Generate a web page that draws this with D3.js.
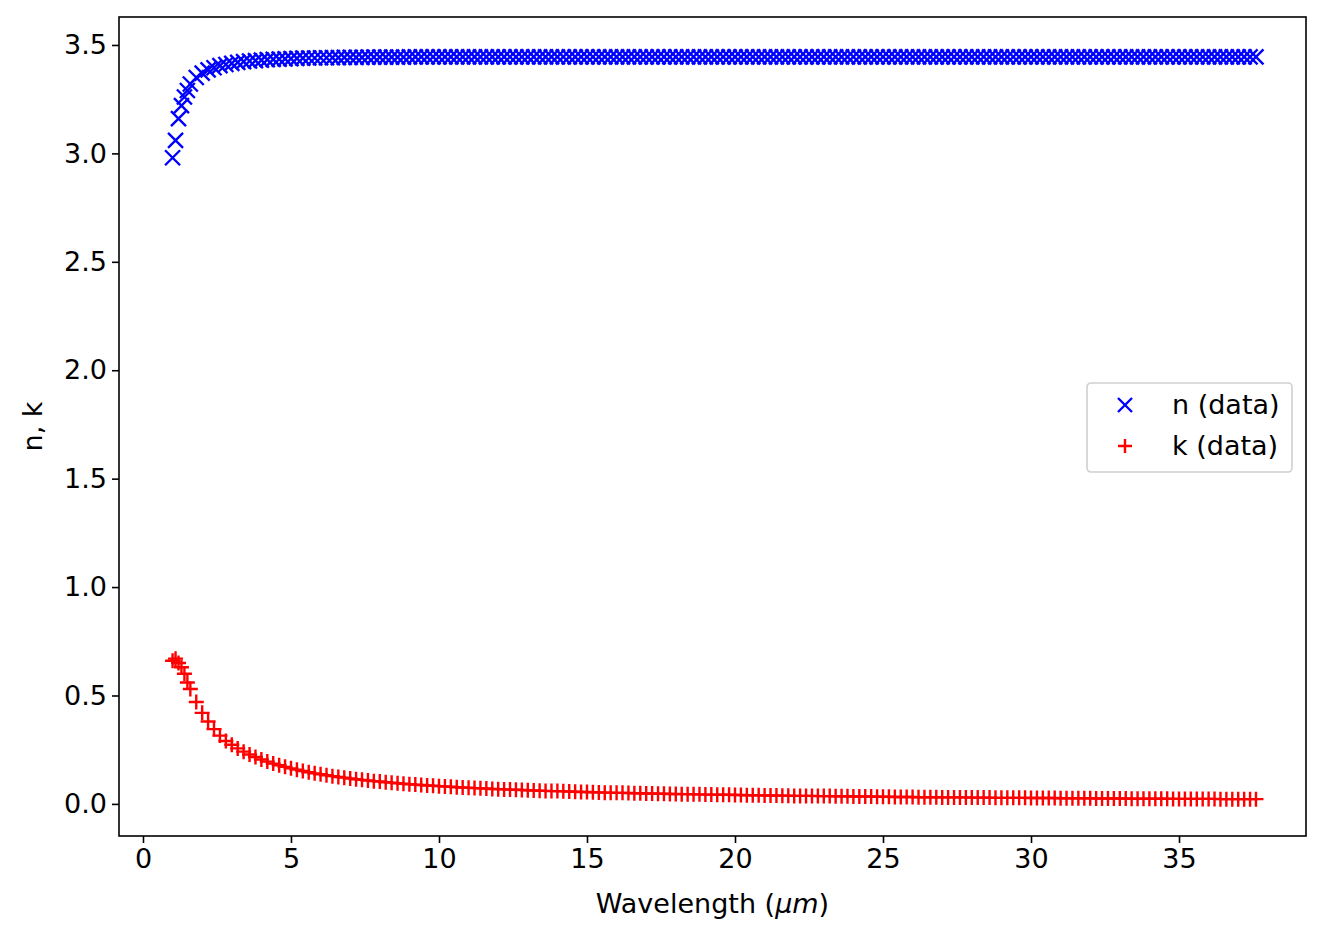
<!DOCTYPE html>
<html>
<head>
<meta charset="utf-8">
<script src="https://cdn.jsdelivr.net/npm/d3@7"></script>
<style>
  body { margin: 0; background: #fff; }
  text { font-family: "DejaVu Sans", sans-serif; fill: #000; }
</style>
</head>
<body>
<div id="chart"></div>
<script>
const wavelength = [
  1.0, 1.1, 1.2, 1.3, 1.4, 1.5, 1.6, 1.8, 2.0, 2.2, 2.4, 2.6, 2.8,
  3.0, 3.2, 3.4, 3.6, 3.8, 4.0, 4.2, 4.4, 4.6, 4.8,
  5.0, 5.2, 5.4, 5.6, 5.8, 6.0, 6.2, 6.4, 6.6, 6.8,
  7.0, 7.2, 7.4, 7.6, 7.8, 8.0, 8.2, 8.4, 8.6, 8.8,
  9.0, 9.2, 9.4, 9.6, 9.8, 10.0, 10.2, 10.4, 10.6, 10.8,
  11.0, 11.2, 11.4, 11.6, 11.8, 12.0, 12.2, 12.4, 12.6, 12.8,
  13.0, 13.2, 13.4, 13.6, 13.8, 14.0, 14.2, 14.4, 14.6, 14.8,
  15.0, 15.2, 15.4, 15.6, 15.8, 16.0, 16.2, 16.4, 16.6, 16.8,
  17.0, 17.2, 17.4, 17.6, 17.8, 18.0, 18.2, 18.4, 18.6, 18.8,
  19.0, 19.2, 19.4, 19.6, 19.8, 20.0, 20.2, 20.4, 20.6, 20.8,
  21.0, 21.2, 21.4, 21.6, 21.8, 22.0, 22.2, 22.4, 22.6, 22.8,
  23.0, 23.2, 23.4, 23.6, 23.8, 24.0, 24.2, 24.4, 24.6, 24.8,
  25.0, 25.2, 25.4, 25.6, 25.8, 26.0, 26.2, 26.4, 26.6, 26.8,
  27.0, 27.2, 27.4, 27.6, 27.8, 28.0, 28.2, 28.4, 28.6, 28.8,
  29.0, 29.2, 29.4, 29.6, 29.8, 30.0, 30.2, 30.4, 30.6, 30.8,
  31.0, 31.2, 31.4, 31.6, 31.8, 32.0, 32.2, 32.4, 32.6, 32.8,
  33.0, 33.2, 33.4, 33.6, 33.8, 34.0, 34.2, 34.4, 34.6, 34.8,
  35.0, 35.2, 35.4, 35.6, 35.8, 36.0, 36.2, 36.4, 36.6, 36.8,
  37.0, 37.2, 37.4, 37.6
];

const nValues = [
  2.98, 3.06, 3.16, 3.22, 3.26, 3.29, 3.32, 3.35, 3.37, 3.385, 3.395, 3.405, 3.41,
  3.415, 3.42, 3.423, 3.426, 3.428, 3.43, 3.432, 3.434, 3.435, 3.436,
  3.437, 3.438, 3.439, 3.44, 3.44, 3.441, 3.441, 3.442, 3.442, 3.443,
  3.443, 3.443, 3.443, 3.444, 3.444, 3.444, 3.444, 3.444, 3.444, 3.444,
  3.445, 3.445, 3.445, 3.445, 3.445, 3.445, 3.445, 3.445, 3.445, 3.445,
  3.445, 3.445, 3.445, 3.445, 3.445, 3.445, 3.445, 3.445, 3.445, 3.445,
  3.445, 3.445, 3.445, 3.445, 3.445, 3.445, 3.445, 3.445, 3.445, 3.445,
  3.445, 3.445, 3.445, 3.445, 3.445, 3.445, 3.445, 3.445, 3.445, 3.445,
  3.445, 3.445, 3.445, 3.445, 3.445, 3.445, 3.445, 3.445, 3.445, 3.445,
  3.445, 3.445, 3.445, 3.445, 3.445, 3.445, 3.445, 3.445, 3.445, 3.445,
  3.445, 3.445, 3.445, 3.445, 3.445, 3.445, 3.445, 3.445, 3.445, 3.445,
  3.445, 3.445, 3.445, 3.445, 3.445, 3.445, 3.445, 3.445, 3.445, 3.445,
  3.445, 3.445, 3.445, 3.445, 3.445, 3.445, 3.445, 3.445, 3.445, 3.445,
  3.445, 3.445, 3.445, 3.445, 3.445, 3.445, 3.445, 3.445, 3.445, 3.445,
  3.445, 3.445, 3.445, 3.445, 3.445, 3.445, 3.445, 3.445, 3.445, 3.445,
  3.445, 3.445, 3.445, 3.445, 3.445, 3.445, 3.445, 3.445, 3.445, 3.445,
  3.445, 3.445, 3.445, 3.445, 3.445, 3.445, 3.445, 3.445, 3.445, 3.445,
  3.445, 3.445, 3.445, 3.445, 3.445, 3.445, 3.445, 3.445, 3.445, 3.445,
  3.445, 3.445, 3.445, 3.445
];

const kValues = [
  0.66, 0.67, 0.65, 0.63, 0.60, 0.56, 0.53, 0.47, 0.42, 0.38, 0.345, 0.315, 0.29,
  0.273, 0.256, 0.241, 0.228, 0.216, 0.205, 0.195, 0.186, 0.178, 0.171,
  0.164, 0.158, 0.152, 0.146, 0.141, 0.137, 0.132, 0.128, 0.124, 0.121,
  0.117, 0.114, 0.111, 0.108, 0.105, 0.103, 0.100, 0.098, 0.095, 0.093,
  0.091, 0.089, 0.087, 0.085, 0.084, 0.082, 0.080, 0.079, 0.077, 0.076,
  0.075, 0.073, 0.072, 0.071, 0.069, 0.068, 0.067, 0.066, 0.065, 0.064,
  0.063, 0.062, 0.061, 0.060, 0.059, 0.059, 0.058, 0.057, 0.056, 0.055,
  0.055, 0.054, 0.053, 0.052, 0.052, 0.051, 0.051, 0.050, 0.049, 0.049,
  0.048, 0.048, 0.047, 0.047, 0.046, 0.046, 0.045, 0.045, 0.044, 0.044,
  0.043, 0.043, 0.042, 0.042, 0.042, 0.041, 0.041, 0.040, 0.040, 0.040,
  0.039, 0.039, 0.039, 0.038, 0.038, 0.037, 0.037, 0.037, 0.037, 0.036,
  0.036, 0.036, 0.035, 0.035, 0.035, 0.034, 0.034, 0.034, 0.034, 0.033,
  0.033, 0.033, 0.032, 0.032, 0.032, 0.032, 0.031, 0.031, 0.031, 0.031,
  0.030, 0.030, 0.030, 0.030, 0.030, 0.029, 0.029, 0.029, 0.029, 0.028,
  0.028, 0.028, 0.028, 0.028, 0.028, 0.027, 0.027, 0.027, 0.027, 0.027,
  0.026, 0.026, 0.026, 0.026, 0.026, 0.026, 0.025, 0.025, 0.025, 0.025,
  0.025, 0.025, 0.024, 0.024, 0.024, 0.024, 0.024, 0.024, 0.024, 0.023,
  0.023, 0.023, 0.023, 0.023, 0.023, 0.023, 0.023, 0.022, 0.022, 0.022,
  0.022, 0.022, 0.022, 0.022
];

const xTicks = [0, 5, 10, 15, 20, 25, 30, 35];
const yTicks = [0.0, 0.5, 1.0, 1.5, 2.0, 2.5, 3.0, 3.5];

const config = {
  width: 1324, height: 940,
  margin: {top: 17, right: 18, bottom: 104, left: 119},
  markerHalf: 7.5,
  fontSize: '27px'
};

const innerW = config.width - config.margin.left - config.margin.right;
const innerH = config.height - config.margin.top - config.margin.bottom;

const svg = d3.select('#chart').append('svg')
  .attr('width', config.width)
  .attr('height', config.height);

const g = svg.append('g')
  .attr('transform', `translate(${config.margin.left},${config.margin.top})`);

const x = d3.scaleLinear().domain([-0.81, 39.29]).range([0, innerW]);
const y = d3.scaleLinear().domain([-0.148, 3.629]).range([innerH, 0]);

const points = wavelength.map((w, i) => ({w, n: nValues[i], k: kValues[i]}));
const h = config.markerHalf;

// n markers (x shape)
g.append('g').selectAll('path')
  .data(points)
  .join('path')
  .attr('d', d => {
    const cx = x(d.w), cy = y(d.n);
    return `M${cx - h},${cy - h}L${cx + h},${cy + h}M${cx - h},${cy + h}L${cx + h},${cy - h}`;
  })
  .attr('stroke', 'blue')
  .attr('stroke-width', 2.4)
  .attr('fill', 'none');

// k markers (+ shape)
g.append('g').selectAll('path')
  .data(points)
  .join('path')
  .attr('d', d => {
    const cx = x(d.w), cy = y(d.k);
    return `M${cx - h},${cy}L${cx + h},${cy}M${cx},${cy - h}L${cx},${cy + h}`;
  })
  .attr('stroke', 'red')
  .attr('stroke-width', 2.4)
  .attr('fill', 'none');

// axes
const xAxis = g.append('g')
  .attr('transform', `translate(0,${innerH})`)
  .call(d3.axisBottom(x).tickValues(xTicks).tickSize(7).tickPadding(6).tickFormat(d3.format('d')));
const yAxis = g.append('g')
  .call(d3.axisLeft(y).tickValues(yTicks).tickSize(7).tickPadding(5).tickFormat(d3.format('.1f')));
[xAxis, yAxis].forEach(a => {
  a.select('.domain').remove();
  a.selectAll('line').attr('stroke', '#000').attr('stroke-width', 1.6);
  a.selectAll('text').style('font-size', config.fontSize).style('font-family', '"DejaVu Sans", sans-serif');
});

g.append('rect')
  .attr('width', innerW).attr('height', innerH)
  .attr('fill', 'none').attr('stroke', '#000').attr('stroke-width', 1.6);

// axis titles
const xt = svg.append('text')
  .attr('x', config.margin.left + innerW / 2)
  .attr('y', 913)
  .attr('text-anchor', 'middle')
  .style('font-size', config.fontSize);
xt.append('tspan').text('Wavelength (');
xt.append('tspan').style('font-style', 'italic').text('μm');
xt.append('tspan').text(')');

svg.append('text')
  .attr('transform', `translate(42,${config.margin.top + innerH / 2}) rotate(-90)`)
  .attr('text-anchor', 'middle')
  .style('font-size', config.fontSize)
  .text('n, k');

// legend
const legend = svg.append('g').attr('transform', 'translate(1087,383)');
legend.append('rect')
  .attr('width', 205).attr('height', 89).attr('rx', 4)
  .attr('fill', 'rgba(255,255,255,0.8)')
  .attr('stroke', '#d0d0d0').attr('stroke-width', 1.6);
const lh = 7;
legend.append('path')
  .attr('d', `M${38 - lh},${22 - lh}L${38 + lh},${22 + lh}M${38 - lh},${22 + lh}L${38 + lh},${22 - lh}`)
  .attr('stroke', 'blue').attr('stroke-width', 2.4);
legend.append('path')
  .attr('d', `M${38 - lh},63L${38 + lh},63M38,${63 - lh}L38,${63 + lh}`)
  .attr('stroke', 'red').attr('stroke-width', 2.4);
legend.append('text').attr('x', 85).attr('y', 31).style('font-size', config.fontSize).text('n (data)');
legend.append('text').attr('x', 85).attr('y', 72).style('font-size', config.fontSize).text('k (data)');
</script>
</body>
</html>
